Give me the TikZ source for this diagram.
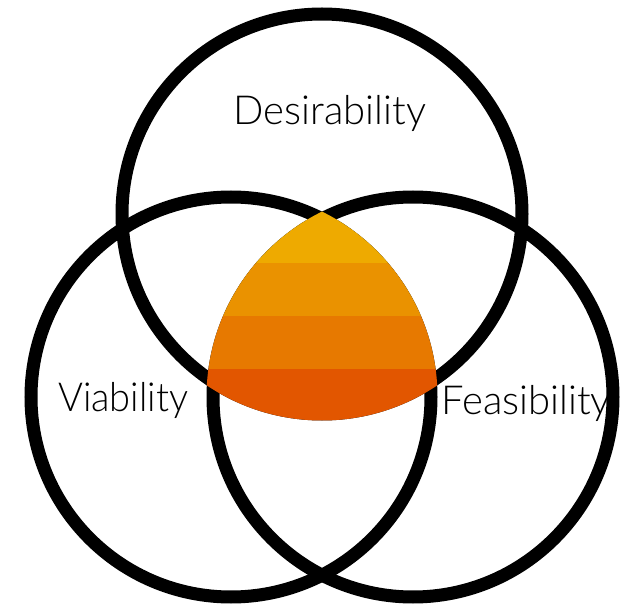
\documentclass[tikz,border=0pt]{standalone}
\usepackage{fontspec}
\setmainfont{Lato}[UprightFont=* Light]

\definecolor{bandA}{RGB}{238,170,0}
\definecolor{bandB}{RGB}{234,146,0}
\definecolor{bandC}{RGB}{231,121,0}
\definecolor{bandD}{RGB}{226,86,0}

\tikzset{
  ring/.style={draw=black, line width=13pt},
  lbl/.style={inner sep=0pt, font=\fontsize{40}{48}\selectfont, text=black},
}

\begin{document}
\begin{tikzpicture}[x=1pt,y=-1pt]
  % Parameters definitions
  \def\circr{200} % Radius of the circles
  \def\circw{13} % Width of the circle lines

  \useasboundingbox (0,0) rectangle (622,604);

  % Centres of the circles
  \coordinate (cdes) at (322,214);
  \coordinate (cvia) at (231,397);
  \coordinate (cfea) at (413,397);

  % Circles
  \draw[ring] (cdes) circle [radius=\circr];
  \draw[ring] (cvia) circle [radius=\circr];
  \draw[ring] (cfea) circle [radius=\circr];

  % Overlap of the three circles
  \begin{scope}
    \clip (cdes) circle [radius=\circr+\circw/2];
    \clip (cvia) circle [radius=\circr+\circw/2];
    \clip (cfea) circle [radius=\circr+\circw/2];
    \foreach \ytop/\ybot/\col in {190/263/bandA, 263/316/bandB, 316/369/bandC, 369/440/bandD}
      \fill[\col] (100,\ytop) rectangle (540,\ybot);
  \end{scope}
  % Overlap END

  % Labels
  \node[lbl, anchor=base] (des) at (330,125) {Desirability};
  \node[lbl, anchor=base west, xscale=0.95] (via) at (58,412) {Viability};
  \node[lbl, anchor=base west] (fea) at (441,415) {Feasibility};
\end{tikzpicture}
\end{document}
